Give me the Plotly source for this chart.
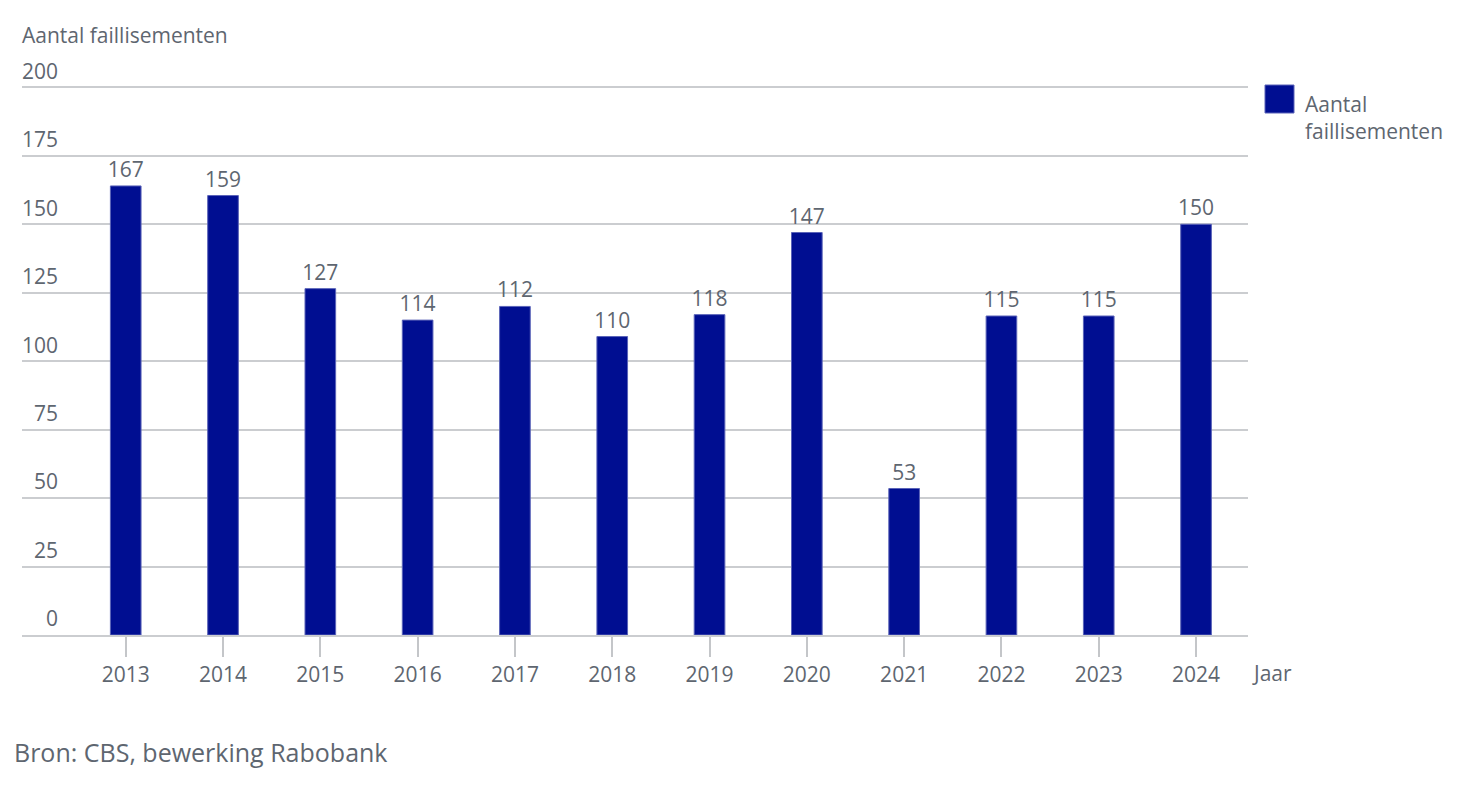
import plotly.graph_objects as go

years = ["2013", "2014", "2015", "2016", "2017", "2018", "2019", "2020", "2021", "2022", "2023", "2024"]
bar_values = [164, 160.5, 126.5, 115, 120, 109, 117, 147, 53.5, 116.5, 116.5, 150]
label_texts = ["167", "159", "127", "114", "112", "110", "118", "147", "53", "115", "115", "150"]
y_ticks = [0, 25, 50, 75, 100, 125, 150, 175, 200]
series_name = "Aantal faillisementen"

BAR = "#000E91"
TXT = "#5E6670"
GRID = "#CBCDD0"
FONT = "Open Sans"
FS = 21

x_idx = list(range(len(years)))

fig = go.Figure()
fig.add_trace(go.Bar(
    x=x_idx, y=bar_values, text=label_texts, textposition="outside",
    constraintext="none", textangle=0,
    textfont=dict(family=FONT, size=FS, color=TXT),
    marker=dict(color=BAR, line=dict(color="#5A63B8", width=1)),
    width=0.315, cliponaxis=False, name=series_name, showlegend=False,
    hoverinfo="skip",
))

fig.update_layout(
    width=1466, height=794,
    margin=dict(l=22, r=218, t=83, b=159),
    paper_bgcolor="white", plot_bgcolor="white",
    font=dict(family=FONT, color=TXT, size=FS),
    uniformtext=dict(mode=False),
    xaxis=dict(
        range=[-1.066, 11.534], tickvals=x_idx, ticktext=years,
        ticks="outside", ticklen=20, tickcolor="#C4C6C9", tickwidth=1.5,
        showline=True, linecolor=GRID, linewidth=1.5, showgrid=False,
        tickfont=dict(family=FONT, size=FS, color=TXT), zeroline=False,
    ),
    yaxis=dict(
        range=[0, 201.6], tickvals=y_ticks, showgrid=True, gridcolor=GRID, gridwidth=1.5,
        zeroline=False, ticks="", ticklabelposition="outside",
        ticklabelstandoff=-37, ticklabelshift=-16,
        tickfont=dict(family=FONT, size=FS, color=TXT),
    ),
    annotations=[
        dict(text=series_name, xref="paper", yref="paper", x=0, y=1, xshift=-2, yshift=48,
             xanchor="left", yanchor="middle", showarrow=False,
             font=dict(family=FONT, size=FS, color=TXT)),
        dict(text="Jaar", xref="paper", yref="paper", x=1, y=0, xshift=2, yshift=-38,
             xanchor="left", yanchor="middle", showarrow=False,
             font=dict(family=FONT, size=FS, color=TXT)),
        dict(text="Aantal<br>faillisementen", xref="paper", yref="paper", x=1, y=1,
             xshift=55, yshift=-5, xanchor="left", yanchor="top", align="left",
             showarrow=False, font=dict(family=FONT, size=FS, color=TXT)),
        dict(text="Bron: CBS, bewerking Rabobank", xref="paper", yref="paper", x=0, y=0,
             xshift=-10, yshift=-117, xanchor="left", yanchor="middle", showarrow=False,
             font=dict(family=FONT, size=25, color=TXT)),
    ],
)
# legend swatch, pixel-sized, anchored at the top-right corner of the plot area
fig.add_shape(type="rect", xref="paper", yref="paper", xsizemode="pixel", ysizemode="pixel",
              xanchor=1, yanchor=1, x0=17, x1=46, y0=-2, y1=-30,
              fillcolor=BAR, line=dict(color="#5A63B8", width=1))

fig.write_html("out.html")
